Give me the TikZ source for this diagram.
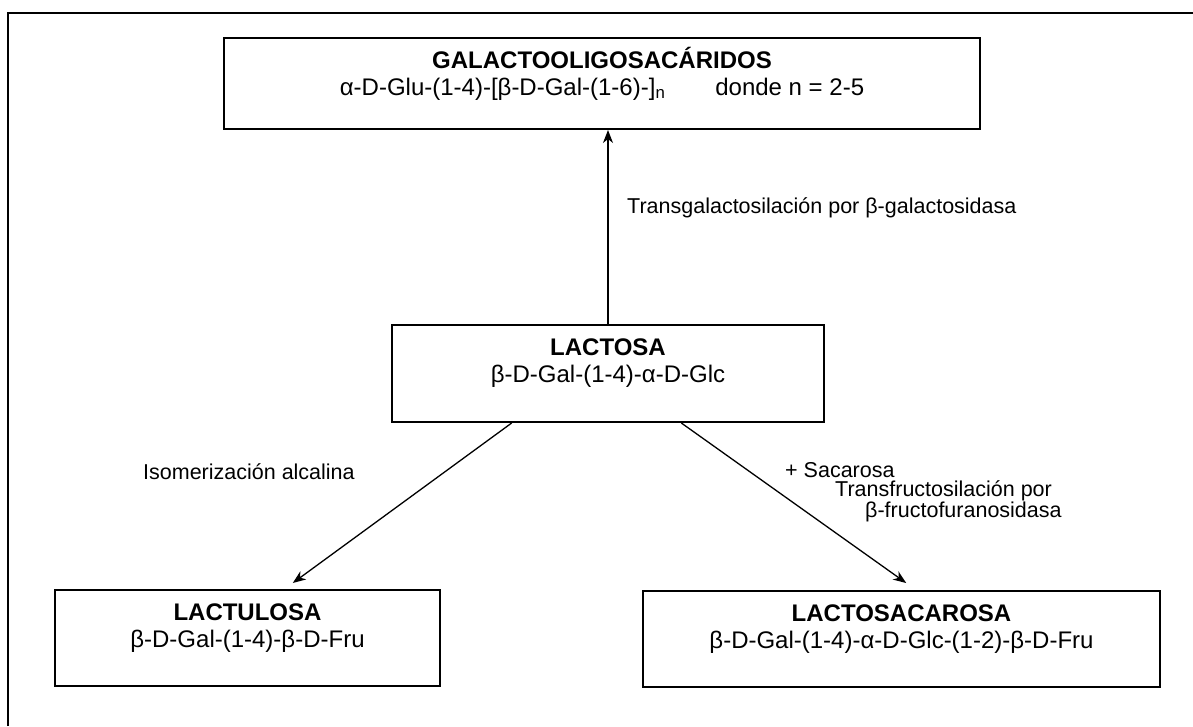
\documentclass[tikz,border=0pt]{standalone}
\usepackage{fontspec}
\setmainfont{Liberation Sans}
\usetikzlibrary{arrows.meta,calc}
\begin{document}
\begin{tikzpicture}[x=1pt,y=-1pt,
  box/.style={draw=black, line width=2pt, rectangle, inner sep=0pt, anchor=north west},
  boxtext/.style={anchor=north, inner sep=0pt, align=center, font=\fontsize{24}{27}\selectfont},
  lbl/.style={inner sep=0pt, font=\fontsize{21.5}{19.5}\selectfont},
  conn/.style={line width=1.3pt, -{Stealth[length=13pt,width=10pt,inset=4pt]}}
]
\useasboundingbox (0,0) rectangle (1193,726);
\draw[line width=2pt] (8,726) -- (8,13) -- (1193,13);

% boxes
\node[box, minimum width=756pt, minimum height=91pt] (galacto) at (223,37) {};
\node[boxtext] (galacto-t) at ([yshift=-8pt]galacto.north)
  {\rule{0pt}{23pt}\textbf{GALACTOOLIGOSACÁRIDOS}\\
   α-D-Glu-(1-4)-[β-D-Gal-(1-6)-]\textsubscript{n}\hspace{50pt}donde n = 2-5};

\node[box, minimum width=432pt, minimum height=97pt] (lactosa) at (391,324) {};
\node[boxtext] (lactosa-t) at ([yshift=-8pt]lactosa.north)
  {\rule{0pt}{23pt}\textbf{LACTOSA}\\β-D-Gal-(1-4)-α-D-Glc};

\node[box, minimum width=385pt, minimum height=96pt] (lactulosa) at (54,589) {};
\node[boxtext] (lactulosa-t) at ([yshift=-8pt]lactulosa.north)
  {\rule{0pt}{23pt}\textbf{LACTULOSA}\\β-D-Gal-(1-4)-β-D-Fru};

\node[box, minimum width=517pt, minimum height=96pt] (lactosac) at (642,590) {};
\node[boxtext] (lactosac-t) at ([yshift=-8pt]lactosac.north)
  {\rule{0pt}{23pt}\textbf{LACTOSACAROSA}\\β-D-Gal-(1-4)-α-D-Glc-(1-2)-β-D-Fru};

% connectors
\coordinate (ls) at ($(lactosa.south west)!0.278!(lactosa.south east)$);
\coordinate (lt) at ($(lactulosa.north west)!0.617!(lactulosa.north east)+(0,-6)$);
\coordinate (rs) at ($(lactosa.south west)!0.669!(lactosa.south east)$);
\coordinate (rt) at ($(lactosac.north west)!0.509!(lactosac.north east)+(0,-7)$);

\draw[conn] (lactosa.north) -- (lactosa.north |- galacto.south);
\draw[conn] (ls) -- (lt);
\draw[conn] (rs) -- (rt);

% labels
\node[lbl, anchor=west] (lbl-tg) at (627,208) {Transgalactosilación por β-galactosidasa};
\node[lbl, anchor=west] (lbl-iso) at (143,472) {Isomerización alcalina};
\node[lbl, anchor=north west, align=left] (lbl-tf) at (785,462)
  {+ Sacarosa\\\hspace*{50pt}Transfructosilación por\\\hspace*{80pt}β-fructofuranosidasa};
\end{tikzpicture}
\end{document}
